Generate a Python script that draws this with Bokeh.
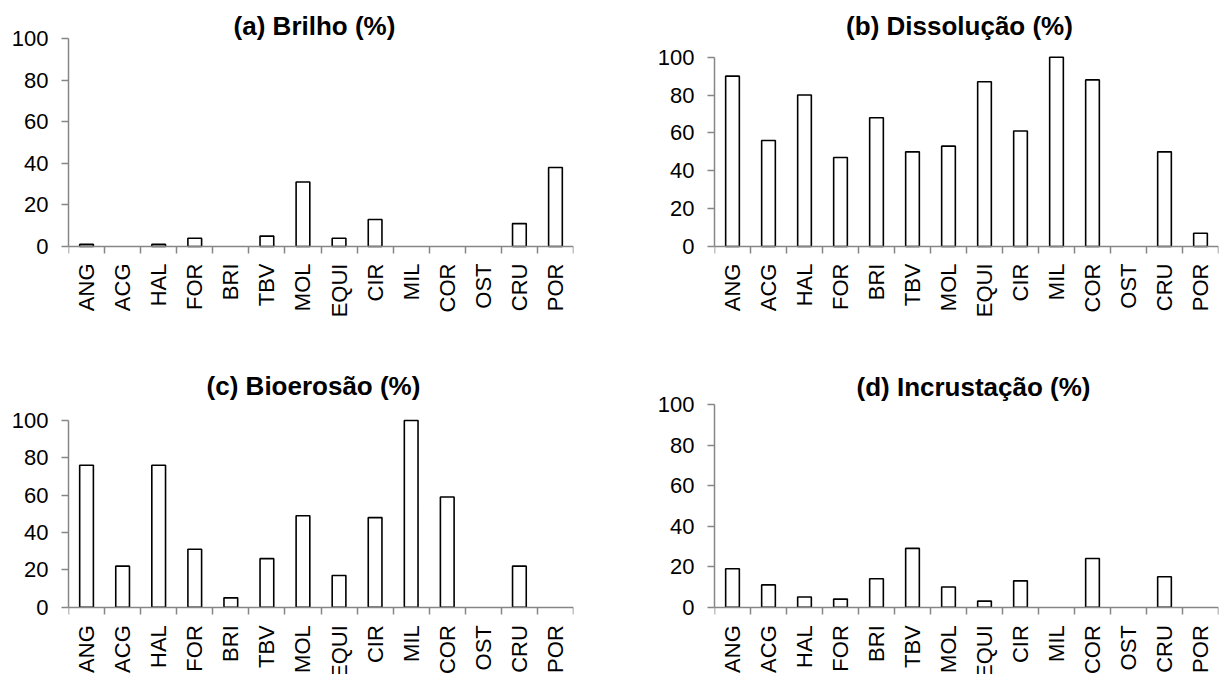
import math
from bokeh.plotting import figure
from bokeh.models import ColumnDataSource, Range1d, FixedTicker, LabelSet, Label, LinearAxis
from bokeh.layouts import column, row
from bokeh.embed import file_html
from bokeh.resources import INLINE
from bokeh.core.properties import value

categories = ["ANG", "ACG", "HAL", "FOR", "BRI", "TBV", "MOL", "EQUI", "CIR", "MIL", "COR", "OST", "CRU", "POR"]
brilho = [1, 0, 1, 4, 0, 5, 31, 4, 13, 0, 0, 0, 11, 38]
dissolucao = [90, 56, 80, 47, 68, 50, 53, 87, 61, 100, 88, 0, 50, 7]
bioerosao = [76, 22, 76, 31, 5, 26, 49, 17, 48, 100, 59, 0, 22, 0]
incrustacao = [19, 11, 5, 4, 14, 29, 10, 3, 13, 0, 24, 0, 15, 0]
titles = ["(a) Brilho (%)", "(b) Dissolução (%)", "(c) Bioerosão (%)", "(d) Incrustação (%)"]
y_ticks = [0, 20, 40, 60, 80, 100]

FONT = "Liberation Sans"
AXIS_GRAY = "#868686"
ROW1_H, ROW2_H = 350, 324
LEFT_W, RIGHT_W = 611, 612


def panel(title, vals, w, h, bl, frame_w, y0_px, y100_px, title_px, title_cx, label_gap=17):
    n = len(categories)
    ppu = (y0_px - y100_px) / 100.0           # pixels per percentage unit
    y_end = 100 + y100_px / ppu               # frame spans the full figure height
    y_start = -(h - y0_px) / ppu
    p = figure(width=w, height=h, x_range=Range1d(0, n), y_range=Range1d(y_start, y_end),
               output_backend="svg", toolbar_location=None, tools="", title=None,
               x_axis_location=None,
               min_border_left=bl, min_border_right=w - bl - frame_w,
               min_border_top=0, min_border_bottom=0)
    p.outline_line_color = None
    p.xgrid.visible = False
    p.ygrid.visible = False
    p.background_fill_color = "white"
    p.border_fill_color = "white"

    ya = p.yaxis[0]
    ya.bounds = (0, 100)
    ya.ticker = FixedTicker(ticks=y_ticks)
    ya.major_tick_out = 7
    ya.major_tick_in = 0
    ya.minor_tick_line_color = None
    ya.axis_line_color = AXIS_GRAY
    ya.axis_line_width = 1.5
    ya.major_tick_line_color = AXIS_GRAY
    ya.major_tick_line_width = 1.5
    ya.major_label_text_font = FONT
    ya.major_label_text_font_size = "22px"
    ya.major_label_text_color = "black"
    ya.major_label_standoff = 13

    # category axis at y = 0 with tick marks at category boundaries
    xa = LinearAxis(fixed_location=0,
                    ticker=FixedTicker(ticks=[], minor_ticks=list(range(n + 1))))
    xa.major_tick_in = 0
    xa.major_tick_out = 0
    xa.minor_tick_in = 7
    xa.minor_tick_out = 0
    xa.major_label_standoff = 0
    xa.axis_line_color = AXIS_GRAY
    xa.axis_line_width = 1.5
    xa.minor_tick_line_color = AXIS_GRAY
    xa.minor_tick_line_width = 1.5
    p.add_layout(xa, "above")

    xs = [i + 0.5 for i, v in enumerate(vals) if v > 0]
    tops = [v for v in vals if v > 0]
    src = ColumnDataSource(dict(x=xs, top=tops))
    p.vbar(x="x", top="top", bottom=0, width=0.38, source=src,
           fill_color="white", line_color="black", line_width=1.6)

    lab_src = ColumnDataSource(dict(x=[i + 0.5 for i in range(n)],
                                    y=[-label_gap / ppu] * n,
                                    text=categories))
    p.add_layout(LabelSet(x="x", y="y", text="text", source=lab_src, angle=math.pi / 2,
                          text_align="right", text_baseline="middle",
                          text_font=value(FONT), text_font_size=value("22px"),
                          text_color="black"))

    p.add_layout(Label(x=(title_cx - bl) * n / frame_w, y=100 + (y100_px - title_px) / ppu,
                       text=title, text_align="center", text_baseline="middle",
                       text_font=FONT, text_font_size="26px", text_font_style="bold",
                       text_color="black"))
    return p


pa = panel(titles[0], brilho, LEFT_W, ROW1_H, 68, 505, 246, 38, 25, 314)
pb = panel(titles[1], dissolucao, RIGHT_W, ROW1_H, 103, 504, 246, 56.7, 25, 959 - LEFT_W)
pc = panel(titles[2], bioerosao, LEFT_W, ROW2_H, 68, 505, 256.7, 70, 35, 313, 18)
pd = panel(titles[3], incrustacao, RIGHT_W, ROW2_H, 103, 504, 256.7, 54, 36, 973 - LEFT_W, 18)

layout = column(row(pa, pb), row(pc, pd))

open("out.html", "w").write(file_html(layout, INLINE))
